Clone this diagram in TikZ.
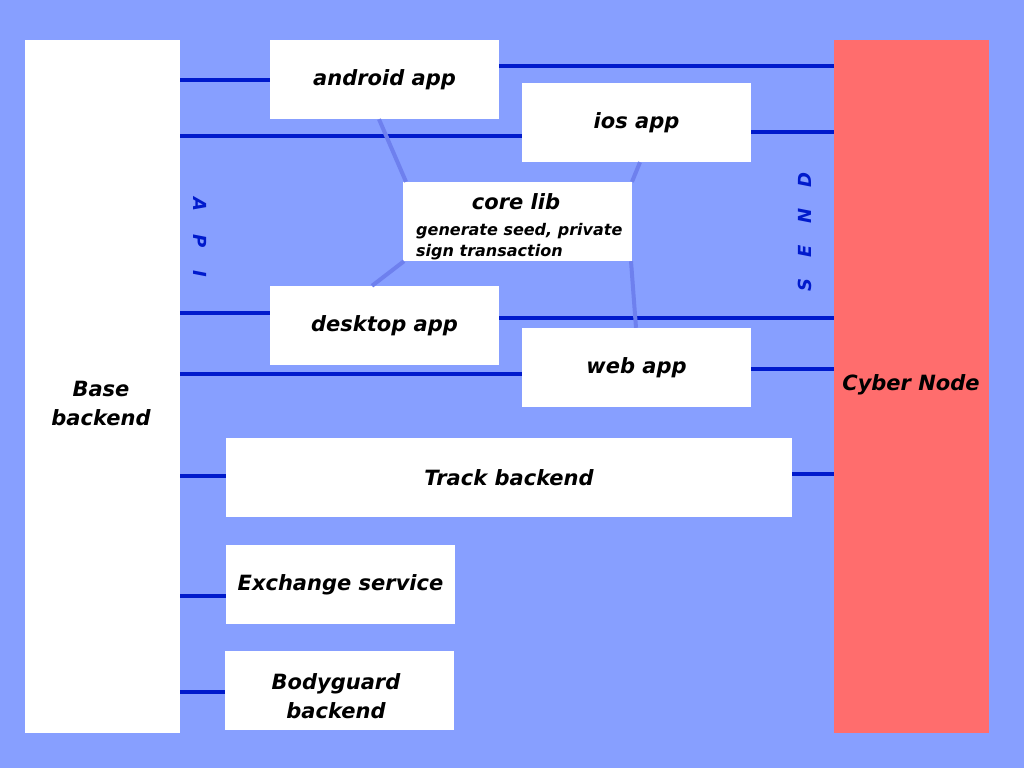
\documentclass[tikz,border=0pt]{standalone}
\usepackage{fontspec}
\setmainfont{DejaVu Sans}
\definecolor{bgc}{RGB}{135,159,255}
\definecolor{nodered}{RGB}{255,109,109}
\definecolor{wire}{RGB}{0,26,204}
\definecolor{libwire}{RGB}{110,128,238}
\begin{document}
\begin{tikzpicture}[x=1pt,y=-1pt,
  box/.style={fill=white,draw=none,inner sep=0pt,minimum width=229pt,minimum height=79pt,font=\fontsize{21}{29}\selectfont\bfseries\itshape,align=center},
  tall/.style={draw=none,inner sep=0pt,minimum width=155pt,minimum height=693pt},
  lbl/.style={font=\fontsize{21}{29}\selectfont\bfseries\itshape,align=center,inner sep=0pt},
  wireline/.style={draw=wire,line width=3.5pt},
  libline/.style={draw=libwire,line width=4pt},
  side/.style={text=wire,inner sep=0pt,font=\fontsize{18}{18}\selectfont\bfseries\itshape}]
\fill[bgc] (0,0) rectangle (1024,768);
\useasboundingbox (0,0) rectangle (1024,768);
\node[tall,fill=white] (base) at (102.5,386.5) {};
\node[lbl] (basetext) at (101,403) {Base\\backend};
\node[tall,fill=nodered] (cyber) at (911.5,386.5) {};
\node[lbl] (cybertext) at (911,385) {Cyber Node};
\node[box] (android) at (384.5,79.5) {android app};
\node[box] (ios) at (636.5,122.5) {ios app};
\node[box] (core) at (517.5,221.5) {};
\node[lbl] (coretitle) at (516,202) {core lib};
\node[font=\fontsize{16}{21}\selectfont\bfseries\itshape,align=left,anchor=base west,inner sep=0pt] (coretext) at (416,256) {generate seed, private\\sign transaction};
\node[box] (desktop) at (384.5,325.5) {desktop app};
\node[box] (web) at (636.5,367.5) {web app};
\node[box,minimum width=566pt] (track) at (509,477.5) {Track backend};
\node[box] (exchange) at (340.5,584.5) {Exchange service};
\node[box] (bodyguard) at (339.5,690.5) {};
\node[lbl] (bodyguardtext) at (336,696) {Bodyguard\\backend};
% API / SEND
\node[side,rotate=-90] (api) at (200,237) {A\hspace{23pt}P\hspace{23pt}I};
\node[side,rotate=90] (send) at (805,232) {S\hspace{21pt}E\hspace{21pt}N\hspace{21pt}D};
% wires left
\draw[wireline] (base.east |- 0,80) -- (android.west |- 0,80);
\draw[wireline] (base.east |- 0,136) -- (ios.west |- 0,136);
\draw[wireline] (base.east |- 0,313) -- (desktop.west |- 0,313);
\draw[wireline] (base.east |- 0,374) -- (web.west |- 0,374);
\draw[wireline] (base.east |- 0,476) -- (track.west |- 0,476);
\draw[wireline] (base.east |- 0,596) -- (exchange.west |- 0,596);
\draw[wireline] (base.east |- 0,692) -- (bodyguard.west |- 0,692);
% wires right
\draw[wireline] (android.east |- 0,66) -- (cyber.west |- 0,66);
\draw[wireline] (ios.east |- 0,132) -- (cyber.west |- 0,132);
\draw[wireline] (desktop.east |- 0,318) -- (cyber.west |- 0,318);
\draw[wireline] (web.east |- 0,369) -- (cyber.west |- 0,369);
\draw[wireline] (track.east |- 0,474) -- (cyber.west |- 0,474);
% core lib links
\draw[libline] (android.south -| 379,0) -- (core.north west -| 406,0);
\draw[libline] (ios.south -| 640,0) -- (core.north east -| 632,0);
\draw[libline] (core.south west -| 404,0) -- (desktop.north -| 372,0);
\draw[libline] (core.south east -| 631,0) -- (web.north -| 636,0);
\end{tikzpicture}
\end{document}
